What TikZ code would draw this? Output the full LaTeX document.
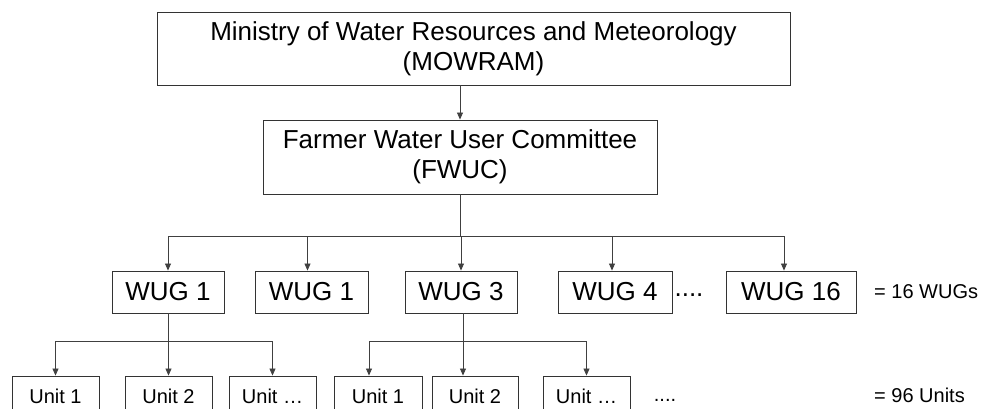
\documentclass[tikz,border=0pt]{standalone}
\usepackage{fontspec}
\setmainfont{Liberation Sans}
\usetikzlibrary{arrows.meta,positioning}

\begin{document}
\begin{tikzpicture}[x=1pt,y=-1pt,
        box/.style = {draw=black!80, line width=0.9pt, inner sep=0pt, align=center},
        big/.style = {box, font=\fontsize{26}{30}\selectfont},
        wug/.style = {box, minimum height=42pt, font=\fontsize{26}{30}\selectfont},
        unit/.style = {box, minimum height=40pt, minimum width=87pt, font=\fontsize{20}{24}\selectfont},
        line/.style = {draw=black!75, line width=0.8pt},
        arr/.style = {line, -{Triangle[width=6pt,length=7pt]}},]
        \useasboundingbox (0,0) rectangle (989,408);

        \node[big, minimum width=633pt, minimum height=73pt] (mowram) at (473.5,48.5) {Ministry of Water Resources and Meteorology\\(MOWRAM)};
        \node[big, minimum width=394pt, minimum height=74pt] (fwuc) at (460,157) {Farmer Water User Committee\\(FWUC)};

        \node[wug, minimum width=112pt] (w1) at (168,292) {WUG 1};
        \node[wug, minimum width=113pt] (w2) at (311.5,292) {WUG 1};
        \node[wug, minimum width=112pt] (w3) at (461,292) {WUG 3};
        \node[wug, minimum width=114pt] (w4) at (615,292) {WUG 4};
        \node[wug, minimum width=130pt] (w5) at (791,292) {WUG 16};

        \node[unit] (u1) at (55.5,396) {Unit 1};
        \node[unit] (u2) at (168.5,396) {Unit 2};
        \node[unit] (u3) at (272.5,396) {Unit …};
        \node[unit, minimum width=88pt] (u4) at (378,396) {Unit 1};
        \node[unit, minimum width=86pt] (u5) at (475,396) {Unit 2};
        \node[unit] (u6) at (586.5,396) {Unit …};

        \node[anchor=base, font=\fontsize{26}{30}\selectfont] (dw) at (689,296) {....};
        \node[anchor=base, font=\fontsize{20}{24}\selectfont] (du) at (665,401) {....};
        \node[anchor=base west, inner sep=0pt, font=\fontsize{20}{24}\selectfont] (nw) at (874,298) {= 16 WUGs};
        \node[anchor=base west, inner sep=0pt, font=\fontsize{20}{24}\selectfont] (nu) at (874,402) {= 96 Units};

        \coordinate (wbus) at (460,236);
        \coordinate (ubus) at (0,341);

        % ministry to committee
        \draw[arr] (mowram.south -| fwuc.north) -- (fwuc.north);

        % committee to the groups
        \draw[line] (fwuc.south) -- (fwuc.south |- wbus);
        \draw[line] (w1.north |- wbus) -- ([xshift=-7pt]w5.north |- wbus);
        \foreach \n/\dx in {w1/0, w2/-4, w3/0, w4/-3, w5/-7}
            \draw[arr] ([xshift=\dx pt]\n.north |- wbus) -- ([xshift=\dx pt]\n.north);

        % groups to the units
        \draw[line] (w1.south) -- (w1.south |- ubus);
        \draw[line] (u1.north |- ubus) -- (u3.north |- ubus);
        \foreach \n in {u1,u2,u3}
            \draw[arr] (\n.north |- ubus) -- (\n.north);

        \draw[line] ([xshift=2pt]w3.south) -- ([xshift=2pt]w3.south |- ubus);
        \draw[line] ([xshift=-9pt]u4.north |- ubus) -- (u6.north |- ubus);
        \foreach \n/\dx in {u4/-9, u5/-12, u6/0}
            \draw[arr] ([xshift=\dx pt]\n.north |- ubus) -- ([xshift=\dx pt]\n.north);

\end{tikzpicture}
\end{document}
